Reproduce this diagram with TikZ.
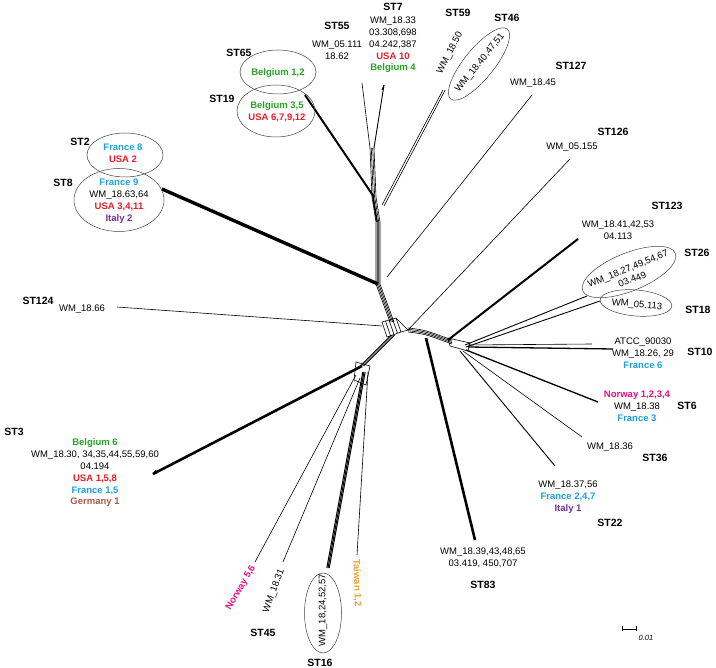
\documentclass[tikz,border=0pt]{standalone}
\usepackage{fontspec}
\setmainfont{Liberation Sans}
\usetikzlibrary{shapes.geometric,calc}
\definecolor{cGreen}{RGB}{40,160,40}
\definecolor{cRed}{RGB}{230,30,40}
\definecolor{cBlue}{RGB}{30,160,220}
\definecolor{cPurple}{RGB}{120,50,150}
\definecolor{cBrown}{RGB}{170,90,70}
\definecolor{cMag}{RGB}{225,20,130}
\definecolor{cOrange}{RGB}{240,160,50}
\begin{document}
\begin{tikzpicture}[x=1pt,y=-1pt,
  stlab/.style={font=\fontsize{10.5}{12}\selectfont\bfseries, inner sep=0},
  txt/.style={font=\fontsize{9.5}{11.8}\selectfont, align=center, inner sep=0},
  ctxt/.style={font=\fontsize{9.5}{11.8}\selectfont\bfseries, align=center, inner sep=0},
  grp/.style={draw=black!75, line width=0.5pt, ellipse, inner sep=0},
  thinln/.style={line width=0.6pt},
  thickln/.style={line width=2.6pt},
  vthickln/.style={line width=3.4pt}]
\useasboundingbox (0,0) rectangle (716,668);

% ---------- coordinates ----------
\coordinate (U0) at (392,322);
\coordinate (Uj) at (378,284);
\coordinate (U1) at (378,222);
\coordinate (U2) at (374,197);
\coordinate (U3) at (372,148);
\coordinate (J) at (408,330);
\coordinate (R0) at (452,342);
\coordinate (D0) at (393,335);
\coordinate (L) at (362,366);

\coordinate (e55) at (362,83);
\coordinate (e7) at (384,85);
\coordinate (e19) at (305,95);
\coordinate (e59) at (443,90);
\coordinate (e127) at (532,95);
\coordinate (e126) at (570,159);
\coordinate (e8) at (162,189);
\coordinate (e124) at (117,307);
\coordinate (e3) at (153,474);
\coordinate (eNo) at (255,562);
\coordinate (e45) at (283,562);
\coordinate (e16) at (328,568);
\coordinate (eTw) at (357,555);
\coordinate (e83) at (475,540);
\coordinate (e123) at (578,239);
\coordinate (e26) at (587,296);
\coordinate (e18) at (600,301);
\coordinate (e10) at (613,349);
\coordinate (e10b) at (592,344);
\coordinate (e6) at (598,402);
\coordinate (e36) at (582,437);
\coordinate (e22) at (555,466);

% ---------- network ----------
% upper bundle
\foreach \o in {-2,-0.7,0.7,2}
  \draw[thinln] ([xshift=\o]U0) -- ([xshift=\o]Uj) -- ([xshift=\o]U1) -- ([xshift=\o]U2) -- ([xshift=\o]U3);
\draw[line width=1.6pt] ([xshift=-1]U1) -- ([xshift=-1]U2);
\draw[thinln] ([xshift=-2]U3) -- (e55);
\draw[line width=0.9pt] ([xshift=2]U3) -- (e7);
\draw[line width=0.9pt] (e7) -- ++(-2,5);
\draw[line width=2pt] (e19) -- (U2);
\draw[thinln] (e59) -- (382,205);
\draw[thinln] ([xshift=2.2]e59) -- (384,206);
\draw[thinln] (e127) -- (387,277);
\draw[thinln] (e126) -- (J);
% centre box
\draw[thinln] (382,322) -- (396,318) -- (401,332) -- (387,337) -- cycle;
\foreach \t in {0.25,0.5,0.75}
  \draw[thinln] ($(382,322)!\t!(396,318)$) -- ($(387,337)!\t!(401,332)$);
\draw[thinln] (396,318) -- (J) -- (401,332);
% right bundle
\foreach \o in {-2,-0.7,0.7,2}
  \draw[thinln] ([yshift=\o]J) .. controls ([yshift=\o]425,332) .. ([yshift=\o]R0);
\draw[thinln] (448,338) -- (470,343) -- (468,351) -- (450,346) -- cycle;
% left-down bundle
\foreach \o in {-2,-0.7,0.7,2}
  \draw[thinln] ([xshift=\o]D0) -- ([xshift=\o]L);
\draw[thinln] (356,362) -- (370,366) -- (366,385) -- (354,380) -- cycle;
% left branches
\draw[vthickln] (e8) -- (Uj);
\draw[thinln] (e124) -- (382,326);
\draw[thickln] (e3) -- (L);
\draw[line width=1pt] (e3) -- ++(3,-4);
% bottom branches
\draw[thinln] (356,375) -- (eNo);
\draw[thinln] (360,378) -- (e45);
\foreach \o in {-1.2,0,1.2}
  \draw[line width=1pt] ([xshift=\o]364,372) -- ([xshift=\o]e16);
\draw[thinln] (368,372) -- (eTw);
% right branches
\draw[thickln] (426,338) -- (e83);
\draw[line width=2pt] (448,340) -- (e123);
\draw[line width=0.9pt] (465,345) -- (e26);
\draw[line width=0.9pt] (466,347) -- (e18);
\draw[line width=1.3pt] (468,347) -- (e10);
\draw[thinln] (468,345) -- (e10b);
\draw[line width=1.3pt] (466,350) -- (e6);
\draw[thinln] (463,351) -- (e36);
\draw[line width=0.9pt] (460,351) -- (e22);

% ---------- ellipses ----------
\node[grp, minimum width=76, minimum height=44] (g65) at (278,72) {};
\node[grp, minimum width=78, minimum height=52] (g19) at (276,111) {};
\node[grp, minimum width=76, minimum height=44] (g2) at (125,155) {};
\node[grp, minimum width=90, minimum height=63] (g8) at (119,200) {};
\node[grp, minimum width=90, minimum height=30, rotate=51] (g46) at (479,64) {};
\node[grp, minimum width=100, minimum height=38, rotate=22] (g26) at (629,272) {};
\node[grp, minimum width=72, minimum height=26, rotate=-5] (g18) at (636,303) {};
\node[grp, minimum width=37, minimum height=80] (g16) at (323,613) {};

% ---------- labels ----------
\node[stlab] (l55) at (337,26) {ST55};
\node[txt] (t55) at (337,50) {WM\_05.111\\18.62};
\node[stlab] (l7) at (393,7) {ST7};
\node[txt] (t7) at (393,45) {WM\_18.33\\03.308,698\\04.242,387\\{\bfseries\color{cRed}USA 10}\\{\bfseries\color{cGreen}Belgium 4}};
\node[stlab] (l65) at (239,53) {ST65};
\node[ctxt, text=cGreen] (t65) at (278,73) {Belgium 1,2};
\node[stlab] (l19) at (222,99) {ST19};
\node[ctxt] (t19) at (277,112) {{\color{cGreen}Belgium 3,5}\\{\color{cRed}USA 6,7,9,12}};
\node[stlab] (l59) at (458,13) {ST59};
\node[txt, rotate=63] (t59) at (450,53) {WM\_18.50};
\node[stlab] (l46) at (507,18) {ST46};
\node[txt, rotate=51] (t46) at (480,63) {WM\_18.40,47,51};
\node[stlab] (l127) at (571,66) {ST127};
\node[txt] (t127) at (533,83) {WM\_18.45};
\node[stlab] (l126) at (613,132) {ST126};
\node[txt] (t126) at (572,147) {WM\_05.155};
\node[stlab] (l123) at (667,206) {ST123};
\node[txt] (t123) at (618,230) {WM\_18.41,42,53\\04.113};
\node[stlab] (l26) at (697,253) {ST26};
\node[txt, rotate=22] (t26) at (630,274) {WM\_18.27,49,54,67\\03.449};
\node[stlab] (l18) at (698,310) {ST18};
\node[txt, rotate=-5] (t18) at (637,305) {WM\_05.113};
\node[txt] (t10) at (643,353) {ATCC\_90030\\WM\_18.26, 29\\{\bfseries\color{cBlue}France 6}};
\node[stlab] (l10) at (700,352) {ST10};
\node[txt] (t6) at (637,406) {{\bfseries\color{cMag}Norway 1,2,3,4}\\WM\_18.38\\{\bfseries\color{cBlue}France 3}};
\node[stlab] (l6) at (687,406) {ST6};
\node[txt] (t36) at (610,447) {WM\_18.36};
\node[stlab] (l36) at (655,458) {ST36};
\node[txt] (t22) at (568,497) {WM\_18.37,56\\{\bfseries\color{cBlue}France 2,4,7}\\{\bfseries\color{cPurple}Italy 1}};
\node[stlab] (l22) at (610,523) {ST22};
\node[txt] (t83) at (483,558) {WM\_18.39,43,48,65\\03.419, 450,707};
\node[stlab] (l83) at (483,585) {ST83};
\node[txt, rotate=90] (t16) at (323,610) {WM\_18,24,52,57};
\node[stlab] (l16) at (320,663) {ST16};
\node[stlab] (l45) at (263,633) {ST45};
\node[txt, rotate=70] (t45) at (274,591) {WM\_18.31};
\node[ctxt, text=cMag, rotate=60] (tNo) at (241,588) {Norway 5,6};
\node[ctxt, text=cOrange, rotate=-88] (tTw) at (357,583) {Taiwan 1,2};
\node[stlab] (l3) at (14,432) {ST3};
\node[txt] (t3) at (95,473) {{\bfseries\color{cGreen}Belgium 6}\\WM\_18.30, 34,35,44,55,59,60\\04.194\\{\bfseries\color{cRed}USA 1,5,8}\\{\bfseries\color{cBlue}France 1,5}\\{\bfseries\color{cBrown}Germany 1}};
\node[stlab] (l124) at (38,301) {ST124};
\node[txt] (t124) at (82,309) {WM\_18.66};
\node[stlab] (l2) at (80,142) {ST2};
\node[ctxt] (t2) at (123,153) {{\color{cBlue}France 8}\\{\color{cRed}USA 2}};
\node[stlab] (l8) at (63,183) {ST8};
\node[txt] (t8) at (119,201) {{\bfseries\color{cBlue}France 9}\\WM\_18.63,64\\{\bfseries\color{cRed}USA 3,4,11}\\{\bfseries\color{cPurple}Italy 2}};

% ---------- scale bar ----------
\coordinate (sb1) at (622,629);
\coordinate (sb2) at (636,629);
\draw[line width=0.5pt] (sb1) -- (sb2);
\draw[line width=0.5pt] ([yshift=2.5]sb1) -- ([yshift=-2.5]sb1);
\draw[line width=0.5pt] ([yshift=2.5]sb2) -- ([yshift=-2.5]sb2);
\node[font=\fontsize{7.5}{9}\selectfont\itshape, inner sep=0] (sbt) at (646,638) {0.01};
\end{tikzpicture}
\end{document}
